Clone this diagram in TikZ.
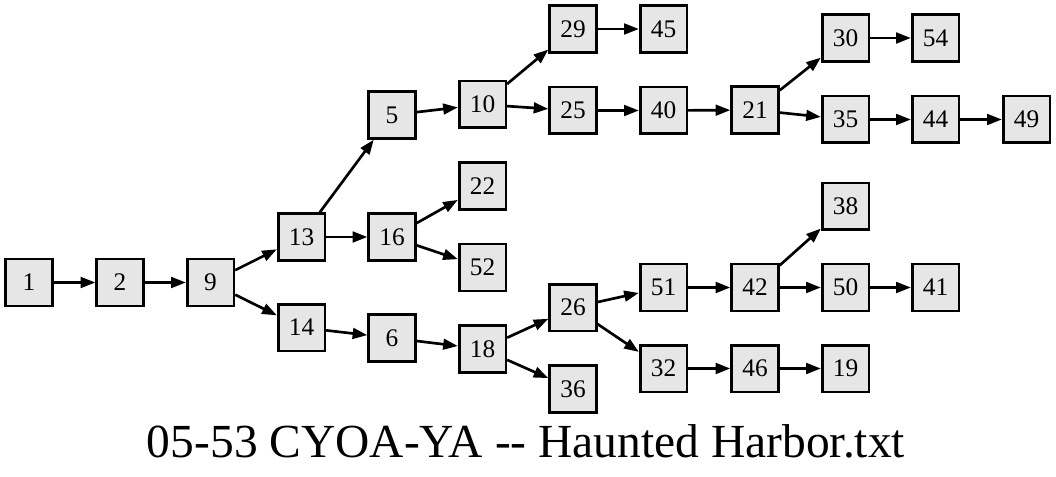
\documentclass[tikz,border=0pt]{standalone}
\usepackage{fontspec}
\setmainfont{Liberation Serif}
\usetikzlibrary{arrows.meta}
\definecolor{boxgray}{HTML}{E6E6E6}
\tikzset{
  passage/.style={draw, fill=boxgray, line width=2pt, minimum size=35pt, inner sep=0pt, font=\fontsize{19}{20}\selectfont},
}

\begin{document}
\begin{tikzpicture}[x=0.75pt, y=-0.75pt, line width=2pt, >={Triangle[length=11pt,width=8pt]}]
    \useasboundingbox (0,0) rectangle (1056,477);

    \node[passage] (n1) at (29,282.5) {1};
    \node[passage] (n2) at (120,282.5) {2};
    \node[passage] (n9) at (210.5,282.5) {9};
    \node[passage] (n13) at (301.5,237) {13};
    \node[passage] (n14) at (301.5,327.5) {14};
    \node[passage] (n5) at (392,115) {5};
    \node[passage] (n16) at (392,237) {16};
    \node[passage] (n6) at (392,338) {6};
    \node[passage] (n10) at (482.5,104.5) {10};
    \node[passage] (n22) at (482.5,186) {22};
    \node[passage] (n52) at (482.5,267.5) {52};
    \node[passage] (n18) at (482.5,349) {18};
    \node[passage] (n29) at (573,29) {29};
    \node[passage] (n25) at (573,110.5) {25};
    \node[passage] (n26) at (573,307.5) {26};
    \node[passage] (n36) at (573,389) {36};
    \node[passage] (n45) at (663.5,29) {45};
    \node[passage] (n40) at (663.5,110.5) {40};
    \node[passage] (n51) at (663.5,287.5) {51};
    \node[passage] (n32) at (663.5,368.5) {32};
    \node[passage] (n21) at (755,110) {21};
    \node[passage] (n42) at (755,287.5) {42};
    \node[passage] (n46) at (755,368.5) {46};
    \node[passage] (n30) at (845.5,38) {30};
    \node[passage] (n35) at (845.5,119.5) {35};
    \node[passage] (n38) at (845.5,206.5) {38};
    \node[passage] (n50) at (845.5,287.5) {50};
    \node[passage] (n19) at (845.5,368.5) {19};
    \node[passage] (n54) at (935.5,38) {54};
    \node[passage] (n44) at (935.5,119.5) {44};
    \node[passage] (n41) at (935.5,287.5) {41};
    \node[passage] (n49) at (1026.5,119.5) {49};

    \node[anchor=base, inner sep=0pt, font=\fontsize{35.6}{40}\selectfont] (title) at (526,457) {05-53 CYOA-YA {-}{-} Haunted Harbor.txt};

    \foreach \from/\to in {1/2, 2/9, 9/13, 9/14, 13/5, 13/16, 14/6, 5/10, 16/22, 16/52,
        6/18, 10/29, 10/25, 18/26, 18/36, 29/45, 25/40, 26/51, 26/32, 40/21,
        51/42, 32/46, 21/30, 21/35, 42/38, 42/50, 46/19, 30/54, 35/44, 50/41, 44/49}
      \draw[->] (n\from) -- (n\to);
\end{tikzpicture}
\end{document}
